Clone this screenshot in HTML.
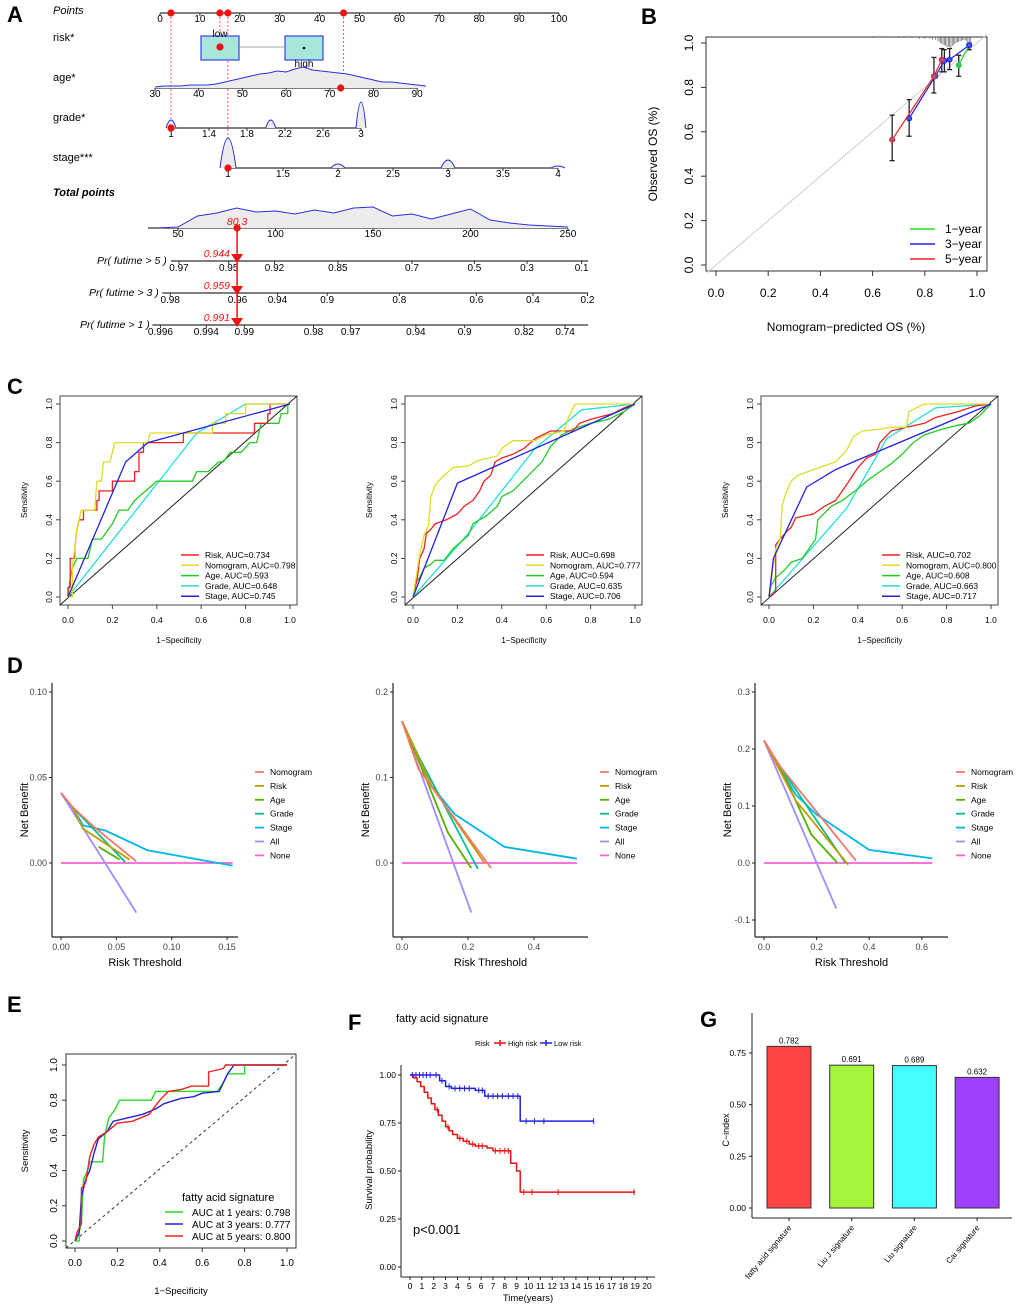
<!DOCTYPE html>
<html><head><meta charset="utf-8"><style>
html,body{margin:0;padding:0;background:#fff;}
svg{display:block;font-family:"Liberation Sans",Arial,sans-serif;}
</style></head><body>
<svg id="fig" width="1020" height="1311" viewBox="0 0 1020 1311" xmlns="http://www.w3.org/2000/svg"></svg>
<script>
// ---------------- DATA ----------------
// Panel A nomogram
const pointsTicks=[0,10,20,30,40,50,60,70,80,90,100];
const ageTicks=[30,40,50,60,70,80,90];
const gradeTicks=[1,1.4,1.8,2.2,2.6,3];
const stageTicks=[1,1.5,2,2.5,3,3.5,4];
const totalTicks=[50,100,150,200,250];
const ageDensity=[1,2,2,2,3,3,3,4,6,8,10,12,14,15,17,16,19,21,18,17,16,15,14,12,10,8,6,6,5,4,3,2];
const gradeBumpVals=[1,2.05,3];
const gradeBumpHeights=[8,8,26];
const stageBumpVals=[1,2,3,4];
const stageBumpHeights=[30,4,8,2];
const totalDensityPts=[40,50,60,70,80,90,100,110,120,130,140,150,160,170,180,190,200,210,220,230,240,250];
const totalDensity=[0,1,12,15,20,16,17,14,18,15,20,21,12,14,9,14,19,8,5,3,2,1];
const selPoints=[2.75,15,17,46];
const totalScore=80.3;
const pr5Labels=["0.97","0.95","0.92","0.85","0.7","0.5","0.3","0.1"];
const pr5Pts=[50.5,76,99.5,132,170,202,229,257];
const pr3Labels=["0.98","0.96","0.94","0.9","0.8","0.6","0.4","0.2"];
const pr3Pts=[46,80.5,101,126.5,163.5,203,232,260];
const pr1Labels=["0.996","0.994","0.99","0.98","0.97","0.94","0.9","0.82","0.74"];
const pr1Pts=[41,64.5,84,119.5,138.5,172,197,227.5,248.5];
const prValues=["0.944","0.959","0.991"];
// Panel B calibration
const cal1X=[0.93,0.97], cal1Y=[0.9,0.99];
const cal3X=[0.74,0.84,0.875,0.895,0.97], cal3Y=[0.66,0.85,0.92,0.925,0.99];
const cal5X=[0.675,0.835,0.865], cal5Y=[0.565,0.85,0.925];
const errX=[0.675,0.74,0.835,0.865,0.875,0.895,0.93,0.97];
const errLo=[0.47,0.58,0.775,0.87,0.87,0.88,0.85,0.97];
const errHi=[0.675,0.745,0.935,0.975,0.97,0.975,0.945,1.0];
const rugX=[0.6,0.65,0.7,0.72,0.75,0.78,0.8,0.82,0.83,0.84,0.85,0.855,0.86,0.865,0.87,0.875,0.88,0.885,0.89,0.895,0.9,0.905,0.91,0.915,0.92,0.925,0.93,0.935,0.94,0.945,0.95,0.955,0.96,0.965,0.97,0.975];
const rugH=[1,1,1,1,1,2,2,2,3,3,4,5,6,7,8,8,9,10,10,10,11,9,8,7,6,5,5,4,4,3,3,3,4,5,6,8];
// Panel C ROC (3 plots x 5 series)
const rocNames=["Risk","Nomogram","Age","Grade","Stage"];
const rocAUC=[["0.734","0.798","0.593","0.648","0.745"],["0.698","0.777","0.594","0.635","0.706"],["0.702","0.800","0.608","0.663","0.717"]];
const c1RiskX=[0,0,0.01,0.01,0.03,0.03,0.04,0.05,0.07,0.07,0.13,0.13,0.14,0.14,0.2,0.2,0.3,0.3,0.32,0.32,0.34,0.34,0.52,0.52,0.84,0.84,0.9,0.9,0.91,0.91,1];
const c1RiskY=[0,0.05,0.05,0.2,0.2,0.25,0.35,0.4,0.4,0.45,0.45,0.5,0.5,0.55,0.55,0.6,0.6,0.65,0.65,0.75,0.75,0.8,0.8,0.85,0.85,0.9,0.9,0.95,0.95,1,1];
const c1NomX=[0,0.02,0.02,0.04,0.06,0.12,0.13,0.15,0.16,0.19,0.2,0.21,0.36,0.37,0.65,0.65,0.71,0.71,0.8,0.8,1];
const c1NomY=[0,0,0.15,0.35,0.45,0.45,0.6,0.6,0.7,0.7,0.75,0.8,0.8,0.85,0.85,0.9,0.9,0.95,0.95,1,1];
const c1AgeX=[0,0.01,0.02,0.04,0.09,0.11,0.15,0.2,0.23,0.27,0.3,0.4,0.56,0.58,0.63,0.68,0.7,0.73,0.78,0.82,0.85,0.87,0.95,0.96,0.99,0.99,1];
const c1AgeY=[0,0.1,0.15,0.2,0.2,0.3,0.3,0.38,0.45,0.45,0.5,0.6,0.6,0.65,0.65,0.7,0.7,0.75,0.75,0.8,0.8,0.9,0.9,0.95,0.95,1,1];
const c1GradeX=[0,0.58,0.8,1], c1GradeY=[0,0.85,1,1];
const c1StageX=[0,0.26,0.36,1], c1StageY=[0,0.7,0.8,1];
const c2RiskX=[0,0.02,0.03,0.05,0.06,0.08,0.1,0.15,0.2,0.23,0.27,0.3,0.32,0.35,0.37,0.4,0.45,0.5,0.55,0.62,0.72,0.75,0.8,0.9,0.95,1];
const c2RiskY=[0,0.1,0.2,0.25,0.33,0.35,0.38,0.4,0.43,0.47,0.5,0.55,0.6,0.63,0.7,0.72,0.74,0.77,0.82,0.86,0.86,0.9,0.92,0.95,0.98,1];
const c2NomX=[0,0.03,0.05,0.07,0.08,0.1,0.13,0.16,0.18,0.25,0.3,0.38,0.4,0.45,0.55,0.6,0.68,0.7,0.73,1];
const c2NomY=[0,0.22,0.32,0.37,0.52,0.58,0.62,0.65,0.67,0.68,0.71,0.73,0.77,0.81,0.81,0.84,0.86,0.93,1,1];
const c2AgeX=[0,0.01,0.03,0.05,0.08,0.1,0.14,0.18,0.25,0.27,0.33,0.38,0.4,0.45,0.52,0.58,0.62,0.67,0.72,0.8,0.88,0.95,1];
const c2AgeY=[0,0.07,0.1,0.15,0.17,0.19,0.19,0.25,0.32,0.38,0.42,0.47,0.52,0.55,0.63,0.7,0.78,0.84,0.87,0.9,0.92,0.96,1];
const c2GradeX=[0,0.25,0.55,0.76,1], c2GradeY=[0,0.33,0.77,0.97,1];
const c2StageX=[0,0.2,1], c2StageY=[0,0.59,1];
const c3RiskX=[0,0.03,0.03,0.05,0.08,0.1,0.12,0.2,0.25,0.3,0.33,0.36,0.4,0.44,0.48,0.5,0.55,0.62,0.7,0.75,0.85,0.93,1];
const c3RiskY=[0,0.03,0.27,0.3,0.34,0.36,0.41,0.43,0.47,0.5,0.55,0.6,0.67,0.72,0.74,0.8,0.86,0.88,0.9,0.93,0.96,0.99,1];
const c3NomX=[0,0.03,0.05,0.06,0.08,0.1,0.13,0.2,0.25,0.3,0.35,0.38,0.42,0.5,0.55,0.62,0.63,0.7,1];
const c3NomY=[0,0.25,0.3,0.48,0.55,0.6,0.63,0.66,0.68,0.7,0.76,0.83,0.86,0.87,0.88,0.88,0.96,1,1];
const c3AgeX=[0,0.01,0.03,0.07,0.1,0.15,0.18,0.21,0.22,0.28,0.33,0.4,0.45,0.5,0.55,0.6,0.65,0.7,0.78,0.85,0.9,0.95,1];
const c3AgeY=[0,0.06,0.1,0.14,0.18,0.2,0.25,0.3,0.4,0.47,0.5,0.56,0.61,0.65,0.69,0.74,0.8,0.84,0.87,0.89,0.9,0.94,1];
const c3GradeX=[0,0.35,0.53,0.75,1], c3GradeY=[0,0.46,0.82,0.98,1];
const c3StageX=[0,0.02,0.17,0.3,0.4,1], c3StageY=[0,0.2,0.57,0.66,0.71,1];
// Panel D DCA
const dcaNames=["Nomogram","Risk","Age","Grade","Stage","All","None"];
const d1NomX=[0,0.01,0.03,0.068], d1NomY=[0.041,0.033,0.021,0.001];
const d1RiskX=[0,0.01,0.02,0.062], d1RiskY=[0.041,0.033,0.02,0.002];
const d1AgeX=[0.034,0.053], d1AgeY=[0.0095,0.002];
const d1GradeX=[0,0.01,0.058], d1GradeY=[0.041,0.033,0.0005];
const d1StageX=[0,0.01,0.02,0.04,0.078,0.155], d1StageY=[0.041,0.033,0.022,0.019,0.0075,-0.0015];
const d1AllX=[0,0.068], d1AllY=[0.041,-0.029];
const d1NoneX=[0,0.155], d1NoneY=[0,0];
const d2NomX=[0,0.05,0.27], d2NomY=[0.166,0.11,-0.006];
const d2RiskX=[0,0.09,0.25], d2RiskY=[0.166,0.09,0];
const d2AgeX=[0,0.05,0.14,0.21], d2AgeY=[0.166,0.12,0.035,-0.006];
const d2GradeX=[0,0.05,0.23], d2GradeY=[0.166,0.125,-0.007];
const d2StageX=[0,0.09,0.16,0.31,0.53], d2StageY=[0.166,0.09,0.057,0.019,0.005];
const d2AllX=[0,0.21], d2AllY=[0.166,-0.058];
const d2NoneX=[0,0.53], d2NoneY=[0,0];
const d3NomX=[0,0.06,0.35], d3NomY=[0.215,0.17,0.004];
const d3RiskX=[0,0.12,0.32], d3RiskY=[0.215,0.11,-0.003];
const d3AgeX=[0,0.06,0.18,0.28], d3AgeY=[0.215,0.17,0.05,0];
const d3GradeX=[0,0.06,0.31], d3GradeY=[0.215,0.17,0];
const d3StageX=[0,0.12,0.2,0.4,0.64], d3StageY=[0.215,0.12,0.085,0.023,0.008];
const d3AllX=[0,0.275], d3AllY=[0.215,-0.08];
const d3NoneX=[0,0.64], d3NoneY=[0,0];
// Panel E time ROC
const e1X=[0,0.02,0.02,0.03,0.04,0.06,0.07,0.13,0.14,0.16,0.19,0.21,0.36,0.38,0.67,0.7,0.72,0.8,0.8,1];
const e1Y=[0,0,0.05,0.1,0.35,0.4,0.45,0.45,0.6,0.7,0.75,0.8,0.8,0.85,0.85,0.9,0.95,0.95,1,1];
const e3X=[0,0.02,0.03,0.05,0.07,0.09,0.11,0.15,0.18,0.25,0.32,0.38,0.42,0.5,0.56,0.6,0.68,0.72,0.75,1];
const e3Y=[0,0.05,0.25,0.35,0.4,0.5,0.58,0.62,0.68,0.7,0.72,0.75,0.78,0.81,0.82,0.84,0.85,0.95,1,1];
const e5X=[0,0.01,0.03,0.03,0.05,0.07,0.09,0.11,0.15,0.2,0.27,0.35,0.4,0.44,0.5,0.55,0.63,0.63,0.7,0.71,1];
const e5Y=[0,0.05,0.1,0.3,0.33,0.48,0.55,0.59,0.62,0.67,0.68,0.72,0.8,0.85,0.86,0.88,0.88,0.96,0.98,1,1];
const eLabels=["AUC at 1 years: 0.798","AUC at 3 years: 0.777","AUC at 5 years: 0.800"];
// Panel F KM
const highT=[0,0.3,0.6,0.9,1.2,1.5,1.8,2.1,2.4,2.7,3,3.3,3.6,4,4.5,5,5.5,6.5,7,8.5,9,9.3,19];
const highS=[1,0.985,0.965,0.94,0.91,0.88,0.85,0.82,0.79,0.76,0.73,0.71,0.69,0.67,0.655,0.64,0.63,0.62,0.605,0.54,0.5,0.39,0.39];
const lowT=[0,2,2.5,3,3.5,5,5.5,6.3,9.3,15.5];
const lowS=[1,1,0.97,0.94,0.93,0.93,0.92,0.89,0.76,0.76];
const highCens=[2.3,3.2,4.2,4.8,5.3,5.8,6.1,7.2,7.6,8,8.3,9.6,10.3,12.5,18.9];
const lowCens=[0.2,0.5,0.8,1.1,1.4,1.7,2.2,2.7,3.3,3.8,4.2,4.6,5,5.8,6.1,6.6,7,7.4,7.8,8.3,8.7,9.1,9.8,10.5,11.3,15.5];
const fXTicks=[0,1,2,3,4,5,6,7,8,9,10,11,12,13,14,15,16,17,18,19,20];
const fYTicks=[0,0.25,0.5,0.75,1];
// Panel G
const gCats=["fatty acid signature","Liu J signature","Liu signature","Cai signature"];
const gVals=[0.782,0.691,0.689,0.632];
const gTicks=[0,0.25,0.5,0.75];

// ---------------- HELPERS ----------------
const svg=document.getElementById('fig');
const NS="http://www.w3.org/2000/svg";
function mk(tag,attrs,parent){const el=document.createElementNS(NS,tag);for(const k in attrs)el.setAttribute(k,attrs[k]);(parent||svg).appendChild(el);return el;}
function nm(el,name){


return el;}
function txt(x,y,s,size,anchor,extra,parent){const a={x:x,y:y,'font-size':size,'text-anchor':anchor||'start',fill:'#000'};if(extra)for(const k in extra)a[k]=extra[k];const t=mk('text',a,parent);t.textContent=s;return t;}
function line(x1,y1,x2,y2,st,w,parent,dash){const a={x1:x1,y1:y1,x2:x2,y2:y2,stroke:st,'stroke-width':w||1};if(dash)a['stroke-dasharray']=dash;return mk('line',a,parent);}
function poly(xs,ys,fx,fy,st,w,parent,dash){const p=xs.map((v,i)=>fx(v).toFixed(1)+','+fy(ys[i]).toFixed(1)).join(' ');const a={points:p,fill:'none',stroke:st,'stroke-width':w||1.2,'stroke-linejoin':'round'};if(dash)a['stroke-dasharray']=dash;return mk('polyline',a,parent);}
function grp(name){const g=mk('g',{});nm(g,name);return g;}
function panelLabel(x,y,s){const t=txt(x,y,s,22,'start',{'font-weight':'bold'});nm(t,'panel-label-'+s.toLowerCase());}

// ---------------- PANEL A ----------------
panelLabel(7,22,'A');
(function(){
const g=grp('nomogram-panel');
const px=v=>160+v*3.99;
const ax=v=>155+(v-30)*4.37;
const gx=v=>171+(v-1)*95;
const sx=v=>228+(v-1)*110;
const tx=v=>178+(v-50)*1.95;
const lab=(y,s,n,extra)=>{const t=txt(53,y,s,11,'start',extra,g);nm(t,n);};
lab(14,'Points','points-label',{'font-style':'italic'});
lab(41,'risk*','risk-label');
lab(81,'age*','age-label');
lab(121,'grade*','grade-label');
lab(161,'stage***','stage-label');
lab(196,'Total points','total-points-label',{'font-style':'italic','font-weight':'bold'});
function axisRow(y,a,b,ticks,f,name,lw){const gg=mk('g',{},g);nm(gg,name);line(a,y,b,y,'#333',lw||1.3,gg);ticks.forEach(v=>{line(f(v),y,f(v),y+3,'#333',1,gg);txt(f(v),y+9,String(v),10,'middle',null,gg);});return gg;}
axisRow(13,px(0),px(100),pointsTicks,px,'points-axis');
// dotted lines
const dl=mk('g',{},g);nm(dl,'projection-lines');
const tgt=[128,47,168,88];
selPoints.forEach((p,i)=>line(px(p),13,px(p),tgt[i],'#f55',1,dl,'2,2'));
// risk boxes
const rb=mk('g',{},g);nm(rb,'risk-boxplot');
line(239,47,284,47,'#aaa',1,rb);
mk('rect',{x:201,y:36,width:38,height:24,fill:'#a8e6dc',stroke:'#3344ee','stroke-width':1.2},rb);
mk('rect',{x:285,y:36,width:38,height:24,fill:'#a8e6dc',stroke:'#3344ee','stroke-width':1.2},rb);
mk('circle',{cx:304,cy:48,r:1.3,fill:'#000'},rb);
txt(220,37,'low',10,'middle',null,rb);
txt(304,67,'high',10,'middle',null,rb);
// age
const ag=axisRow(88,ax(30),ax(90),ageTicks,ax,'age-axis');
const ap=ageDensity.map((h,i)=>ax(30+i*2).toFixed(1)+','+(88-h).toFixed(1));
mk('polygon',{points:ax(30)+',88 '+ap.join(' ')+' '+ax(92)+',88',fill:'#ececec',stroke:'none'},ag);
mk('polyline',{points:ap.join(' '),fill:'none',stroke:'#2233dd','stroke-width':1},ag);
// grade
const gg=axisRow(128,gx(1),gx(3),gradeTicks,gx,'grade-axis');
gradeBumpVals.forEach((v,i)=>{const h=gradeBumpHeights[i],w=5;mk('path',{d:`M${gx(v)-w},128 Q${gx(v)},${128-2*h} ${gx(v)+w},128`,fill:'#ececec',stroke:'#2233dd','stroke-width':1},gg);});
// stage
const sg=axisRow(168,sx(1),sx(4),stageTicks,sx,'stage-axis');
stageBumpVals.forEach((v,i)=>{const h=stageBumpHeights[i],w=i==0?8:7;mk('path',{d:`M${sx(v)-w},168 Q${sx(v)},${168-2*h} ${sx(v)+w},168`,fill:'#ececec',stroke:'#2233dd','stroke-width':1},sg);});
// total
const tg=axisRow(228,148,tx(250),totalTicks,tx,'total-points-axis');
const tp=totalDensityPts.map((p,i)=>tx(p).toFixed(1)+','+(228-totalDensity[i]).toFixed(1));
mk('polygon',{points:tx(40)+',228 '+tp.join(' ')+' '+tx(250)+',228',fill:'#ececec',stroke:'none'},tg);
mk('polyline',{points:tp.join(' '),fill:'none',stroke:'#2233dd','stroke-width':1},tg);
// dots
const dg=mk('g',{},g);nm(dg,'selected-points');
selPoints.forEach(p=>mk('circle',{cx:px(p),cy:13,r:3.6,fill:'#e11'},dg));
mk('circle',{cx:220,cy:47,r:3.6,fill:'#e11'},dg);
mk('circle',{cx:ax(72.5),cy:88,r:3.6,fill:'#e11'},dg);
mk('circle',{cx:gx(1),cy:128,r:3.6,fill:'#e11'},dg);
mk('circle',{cx:sx(1),cy:168,r:3.6,fill:'#e11'},dg);
// prob rows
const rows=[[261,'Pr( futime > 5 )',pr5Labels,pr5Pts,97],[293,'Pr( futime > 3 )',pr3Labels,pr3Pts,89],[325,'Pr( futime > 1 )',pr1Labels,pr1Pts,80]];
rows.forEach((r,ri)=>{const rg=mk('g',{},g);nm(rg,'prob-axis-'+(ri==0?'5y':ri==1?'3y':'1y'));
 txt(r[4],r[0]+3,r[1],10.5,'start',{'font-style':'italic'},rg);
 line(tx(r[3][0])-8,r[0],588,r[0],'#333',1.3,rg);
 r[3].forEach((p,i)=>{line(tx(p),r[0],tx(p),r[0]+3,'#333',1,rg);txt(tx(p),r[0]+10,r[2][i],10,'middle',null,rg);});
 txt(230,r[0]-4,prValues[ri],10.5,'end',{fill:'#e11','font-style':'italic'},rg);
});
const mg=mk('g',{},g);nm(mg,'total-score-marker');
const X=tx(totalScore);
line(X,228,X,322,'#e11',1.5,mg);
mk('circle',{cx:X,cy:228,r:3.6,fill:'#e11'},mg);
[261,293,325].forEach(y=>mk('polygon',{points:`${X-6},${y-7} ${X+6},${y-7} ${X},${y+2}`,fill:'#e11'},mg));
txt(X,225,String(totalScore),10.5,'middle',{fill:'#e11','font-style':'italic'},mg);
})();

// ---------------- PANEL B ----------------
panelLabel(641,24,'B');
(function(){
const g=grp('calibration-plot');
const fx=v=>716+v*261, fy=v=>265-v*222;
mk('rect',{x:706,y:37,width:281,height:234,fill:'none',stroke:'#333','stroke-width':1},g);
const xa=mk('g',{},g);nm(xa,'x-axis');
[0,0.2,0.4,0.6,0.8,1].forEach(v=>{line(fx(v),271,fx(v),276,'#333',1,xa);txt(fx(v),297,v.toFixed(1),12,'middle',null,xa);});
const ya=mk('g',{},g);nm(ya,'y-axis');
[0,0.2,0.4,0.6,0.8,1].forEach(v=>{line(701,fy(v),706,fy(v),'#333',1,ya);txt(689,fy(v)+4,v.toFixed(1),12,'middle',{transform:`rotate(-90 689 ${fy(v)})`},ya);});
const xt=txt(846,331,'Nomogram−predicted OS (%)',12,'middle',null,g);nm(xt,'x-axis-title');
const yt=txt(657,154,'Observed OS (%)',12,'middle',{transform:'rotate(-90 657 154)'},g);nm(yt,'y-axis-title');
line(fx(-0.035),fy(-0.035),fx(1.04),fy(1.04),'#ccc',1,g);
const rg=mk('g',{},g);nm(rg,'rug');
rugX.forEach((v,i)=>line(fx(v),37,fx(v),37+rugH[i],'#555',0.6,rg));
const eg=mk('g',{},g);nm(eg,'error-bars');
errX.forEach((v,i)=>{line(fx(v),fy(errLo[i]),fx(v),fy(errHi[i]),'#222',1.3,eg);line(fx(v)-2.5,fy(errLo[i]),fx(v)+2.5,fy(errLo[i]),'#222',1.3,eg);line(fx(v)-2.5,fy(errHi[i]),fx(v)+2.5,fy(errHi[i]),'#222',1.3,eg);});
const ser=[[cal1X,cal1Y,'#22dd22','1-year'],[cal3X,cal3Y,'#2222ee','3-year'],[cal5X,cal5Y,'#ee2222','5-year']];
ser.forEach(s=>{const sg=mk('g',{},g);nm(sg,'calibration-'+s[3]);poly(s[0],s[1],fx,fy,s[2],1.2,sg);s[0].forEach((v,i)=>{mk('circle',{cx:fx(v),cy:fy(s[1][i]),r:3,fill:s[2]},sg);txt(fx(v),fy(s[1][i])+3,'×',9,'middle',{fill:'#6688ff'},sg);});});
const lg=mk('g',{},g);nm(lg,'legend');
ser.forEach((s,i)=>{const y=229+i*15;line(910,y,935,y,s[2],1.5,lg);txt(945,y+4,s[3].replace('-','−'),12,'start',null,lg);});
})();

// ---------------- PANEL C ----------------
panelLabel(7,394,'C');
const rocData=[[[c1RiskX,c1RiskY],[c1NomX,c1NomY],[c1AgeX,c1AgeY],[c1GradeX,c1GradeY],[c1StageX,c1StageY]],
[[c2RiskX,c2RiskY],[c2NomX,c2NomY],[c2AgeX,c2AgeY],[c2GradeX,c2GradeY],[c2StageX,c2StageY]],
[[c3RiskX,c3RiskY],[c3NomX,c3NomY],[c3AgeX,c3AgeY],[c3GradeX,c3GradeY],[c3StageX,c3StageY]]];
const rocCols=['#ee2222','#dddd22','#22cc22','#22dddd','#2222dd'];
[68,413,769].forEach((x0,pi)=>{
const g=grp('roc-plot-'+(pi+1));
const fx=v=>x0+v*222, fy=v=>597-v*193;
mk('rect',{x:x0-8,y:396,width:237,height:209,fill:'none',stroke:'#444','stroke-width':1},g);
const xa=mk('g',{},g);nm(xa,'x-axis');
[0,0.2,0.4,0.6,0.8,1].forEach(v=>{line(fx(v),605,fx(v),609,'#444',1,xa);txt(fx(v),623,v.toFixed(1),8.5,'middle',null,xa);});
const ya=mk('g',{},g);nm(ya,'y-axis');
[0,0.2,0.4,0.6,0.8,1].forEach(v=>{line(x0-12,fy(v),x0-8,fy(v),'#444',1,ya);txt(x0-19,fy(v)+3,v.toFixed(1),8.5,'middle',{transform:`rotate(-90 ${x0-19} ${fy(v)})`},ya);});
const xt=txt(x0+111,643,'1−Specificity',8,'middle',null,g);nm(xt,'x-axis-title');
const yt=txt(x0-41,500,'Sensitivity',8,'middle',{transform:`rotate(-90 ${x0-41} 500)`},g);nm(yt,'y-axis-title');
line(x0-8,605,x0+229,396,'#222',1,g);
[3,2,0,1,4].forEach(si=>{const s=rocData[pi][si];const p=poly(s[0],s[1],fx,fy,rocCols[si],1.3,g);nm(p,'roc-'+rocNames[si].toLowerCase());});
const lg=mk('g',{},g);nm(lg,'legend');
rocNames.forEach((n,i)=>{const y=555+i*10.3;line(x0+113,y,x0+131,y,rocCols[i],1.5,lg);txt(x0+137,y+3,n+', AUC='+rocAUC[pi][i],8.5,'start',null,lg);});
});

// ---------------- PANEL D ----------------
panelLabel(7,673,'D');
const dcaCols=['#f8766d','#c49a00','#53b400','#00c094','#00b6eb','#a58aff','#fb61d7'];
const dcaData=[[[d1NomX,d1NomY],[d1RiskX,d1RiskY],[d1AgeX,d1AgeY],[d1GradeX,d1GradeY],[d1StageX,d1StageY],[d1AllX,d1AllY],[d1NoneX,d1NoneY]],
[[d2NomX,d2NomY],[d2RiskX,d2RiskY],[d2AgeX,d2AgeY],[d2GradeX,d2GradeY],[d2StageX,d2StageY],[d2AllX,d2AllY],[d2NoneX,d2NoneY]],
[[d3NomX,d3NomY],[d3RiskX,d3RiskY],[d3AgeX,d3AgeY],[d3GradeX,d3GradeY],[d3StageX,d3StageY],[d3AllX,d3AllY],[d3NoneX,d3NoneY]]];
const dcaCfg=[{ax:52,x0:61,sx:1107,xt:[0,0.05,0.1,0.15],xf:2,sy:1710,yt:[0,0.05,0.1],yf:2,right:238,leg:255},
{ax:393,x0:402,sx:330,xt:[0,0.2,0.4],xf:1,sy:855,yt:[0,0.1,0.2],yf:1,right:588,leg:600},
{ax:755,x0:764,sx:263,xt:[0,0.2,0.4,0.6],xf:1,sy:570,yt:[-0.1,0,0.1,0.2,0.3],yf:1,right:948,leg:956}];
dcaCfg.forEach((c,pi)=>{
const g=grp('decision-curve-plot-'+(pi+1));
const fx=v=>c.x0+v*c.sx, fy=v=>863-v*c.sy;
line(c.ax,683,c.ax,937,'#222',1.2,g);line(c.ax,937,c.right,937,'#222',1.2,g);
const xa=mk('g',{},g);nm(xa,'x-axis');
c.xt.forEach(v=>{line(fx(v),937,fx(v),940,'#222',1,xa);txt(fx(v),950,v.toFixed(c.xf),9,'middle',{fill:'#444'},xa);});
const ya=mk('g',{},g);nm(ya,'y-axis');
c.yt.forEach(v=>{line(c.ax-3,fy(v),c.ax,fy(v),'#222',1,ya);txt(c.ax-5,fy(v)+3,v.toFixed(c.yf),9,'end',{fill:'#444'},ya);});
const xt=txt((c.ax+c.right)/2,966,'Risk Threshold',11,'middle',null,g);nm(xt,'x-axis-title');
const yx=c.ax-24;const yt=txt(yx,810,'Net Benefit',11,'middle',{transform:`rotate(-90 ${yx} 810)`},g);nm(yt,'y-axis-title');
[6,5,4,3,2,1,0].forEach(si=>{const s=dcaData[pi][si];const p=poly(s[0],s[1],fx,fy,dcaCols[si],1.8,g);nm(p,'dca-'+dcaNames[si].toLowerCase());});
const lg=mk('g',{},g);nm(lg,'legend');
dcaNames.forEach((n,i)=>{const y=772+i*13.9;line(c.leg,y,c.leg+9,y,dcaCols[i],1.8,lg);txt(c.leg+15,y+3,n,8.5,'start',null,lg);});
});

// ---------------- PANEL E ----------------
panelLabel(7,1012,'E');
(function(){
const g=grp('time-roc-plot');
const fx=v=>75+v*212, fy=v=>1241-v*176;
mk('rect',{x:66,y:1054,width:230,height:194,fill:'none',stroke:'#333','stroke-width':1},g);
const xa=mk('g',{},g);nm(xa,'x-axis');
[0,0.2,0.4,0.6,0.8,1].forEach(v=>{line(fx(v),1248,fx(v),1252,'#333',1,xa);txt(fx(v),1266,v.toFixed(1),10,'middle',null,xa);});
const ya=mk('g',{},g);nm(ya,'y-axis');
[0,0.2,0.4,0.6,0.8,1].forEach(v=>{line(62,fy(v),66,fy(v),'#333',1,ya);txt(53,fy(v)+4,v.toFixed(1),10,'middle',{transform:`rotate(-90 53 ${fy(v)})`},ya);});
const xt=txt(181,1294,'1−Specificity',9.5,'middle',null,g);nm(xt,'x-axis-title');
const yt=txt(28,1151,'Sensitivity',9.5,'middle',{transform:'rotate(-90 28 1151)'},g);nm(yt,'y-axis-title');
line(66,1248,296,1054,'#333',1,g,'3,3');
const ser=[[e1X,e1Y,'#22dd22','1-year'],[e3X,e3Y,'#2222dd','3-year'],[e5X,e5Y,'#ee2222','5-year']];
ser.forEach(s=>{const p=poly(s[0],s[1],fx,fy,s[2],1.4,g);nm(p,'roc-'+s[3]);});
const lg=mk('g',{},g);nm(lg,'legend');
txt(182,1201,'fatty acid signature',11,'start',null,lg);
ser.forEach((s,i)=>{const y=1212+i*12;line(165,y,183,y,s[2],1.5,lg);txt(192,y+4,eLabels[i],10,'start',null,lg);});
})();

// ---------------- PANEL F ----------------
panelLabel(348,1030,'F');
(function(){
const g=grp('km-survival-plot');
const fx=v=>410+v*11.85, fy=v=>1267-v*192;
const tt=txt(396,1022,'fatty acid signature',11,'start',null,g);nm(tt,'chart-title');
const lg=mk('g',{},g);nm(lg,'legend');
txt(475,1046,'Risk',7.5,'start',null,lg);
line(494,1043,506,1043,'#e11',1.5,lg);line(500,1040,500,1046,'#e11',1.5,lg);txt(508,1046,'High risk',7.5,'start',null,lg);
line(540,1043,552,1043,'#22d',1.5,lg);line(546,1040,546,1046,'#22d',1.5,lg);txt(554,1046,'Low risk',7.5,'start',null,lg);
line(401,1065,401,1277,'#222',1,g);line(401,1277,655,1277,'#222',1,g);
const ya=mk('g',{},g);nm(ya,'y-axis');
fYTicks.forEach(v=>{line(398,fy(v),401,fy(v),'#222',1,ya);txt(396,fy(v)+3,v.toFixed(2),8.5,'end',null,ya);});
const xa=mk('g',{},g);nm(xa,'x-axis');
fXTicks.forEach(v=>{line(fx(v),1277,fx(v),1280,'#222',1,xa);txt(fx(v),1289,String(v),8.5,'middle',null,xa);});
const xt=txt(528,1301,'Time(years)',9.5,'middle',null,g);nm(xt,'x-axis-title');
const yt=txt(372,1170,'Survival probability',9.5,'middle',{transform:'rotate(-90 372 1170)'},g);nm(yt,'y-axis-title');
function step(T,S){const xs=[T[0]],ys=[S[0]];for(let i=1;i<T.length;i++){xs.push(T[i]);ys.push(S[i-1]);xs.push(T[i]);ys.push(S[i]);}return [xs,ys];}
function survAt(T,S,t){let s=S[0];for(let i=0;i<T.length;i++){if(T[i]<=t)s=S[i];}return s;}
const hs=step(highT,highS);const hp=poly(hs[0],hs[1],fx,fy,'#e11',1.5,g);nm(hp,'high-risk-curve');
const ls=step(lowT,lowS);const lp=poly(ls[0],ls[1],fx,fy,'#22d',1.5,g);nm(lp,'low-risk-curve');
const cg=mk('g',{},g);nm(cg,'censor-marks');
highCens.forEach(t=>{const y=fy(survAt(highT,highS,t));line(fx(t),y-3,fx(t),y+3,'#e11',1,cg);});
lowCens.forEach(t=>{const y=fy(survAt(lowT,lowS,t));line(fx(t),y-3,fx(t),y+3,'#22d',1,cg);});
const pv=txt(413,1234,'p<0.001',13,'start',null,g);nm(pv,'p-value');
})();

// ---------------- PANEL G ----------------
panelLabel(700,1027,'G');
(function(){
const g=grp('c-index-bar-chart');
const fy=v=>1208-v*206.7;
const cols=['#ff4444','#a4f43c','#44ffff','#a040ff'];
const bw=44, x0=767, step=62.7;
line(752,1013,752,1218,'#222',1,g);line(752,1218,1012,1218,'#222',1,g);
const ya=mk('g',{},g);nm(ya,'y-axis');
gTicks.forEach(v=>{line(749,fy(v),752,fy(v),'#222',1,ya);txt(746,fy(v)+3,v.toFixed(2),8.5,'end',null,ya);});
const yt=txt(729,1130,'C−index',9,'middle',{transform:'rotate(-90 729 1130)'},g);nm(yt,'y-axis-title');
gVals.forEach((v,i)=>{const x=x0+i*step;
const b=mk('rect',{x:x,y:fy(v),width:bw,height:fy(0)-fy(v),fill:cols[i],stroke:'#333','stroke-width':1},g);


const vl=txt(x+bw/2,fy(v)-3,v.toFixed(3),8,'middle',null,g);nm(vl,'bar-value-label');
const cx=x+bw/2+3;line(x+bw/2,1218,x+bw/2,1221,'#222',1,g);
const cl=txt(cx,1228,gCats[i],8,'end',{transform:`rotate(-50 ${cx} 1228)`},g);nm(cl,'category-label');
});
})();
</script>
</body></html>
